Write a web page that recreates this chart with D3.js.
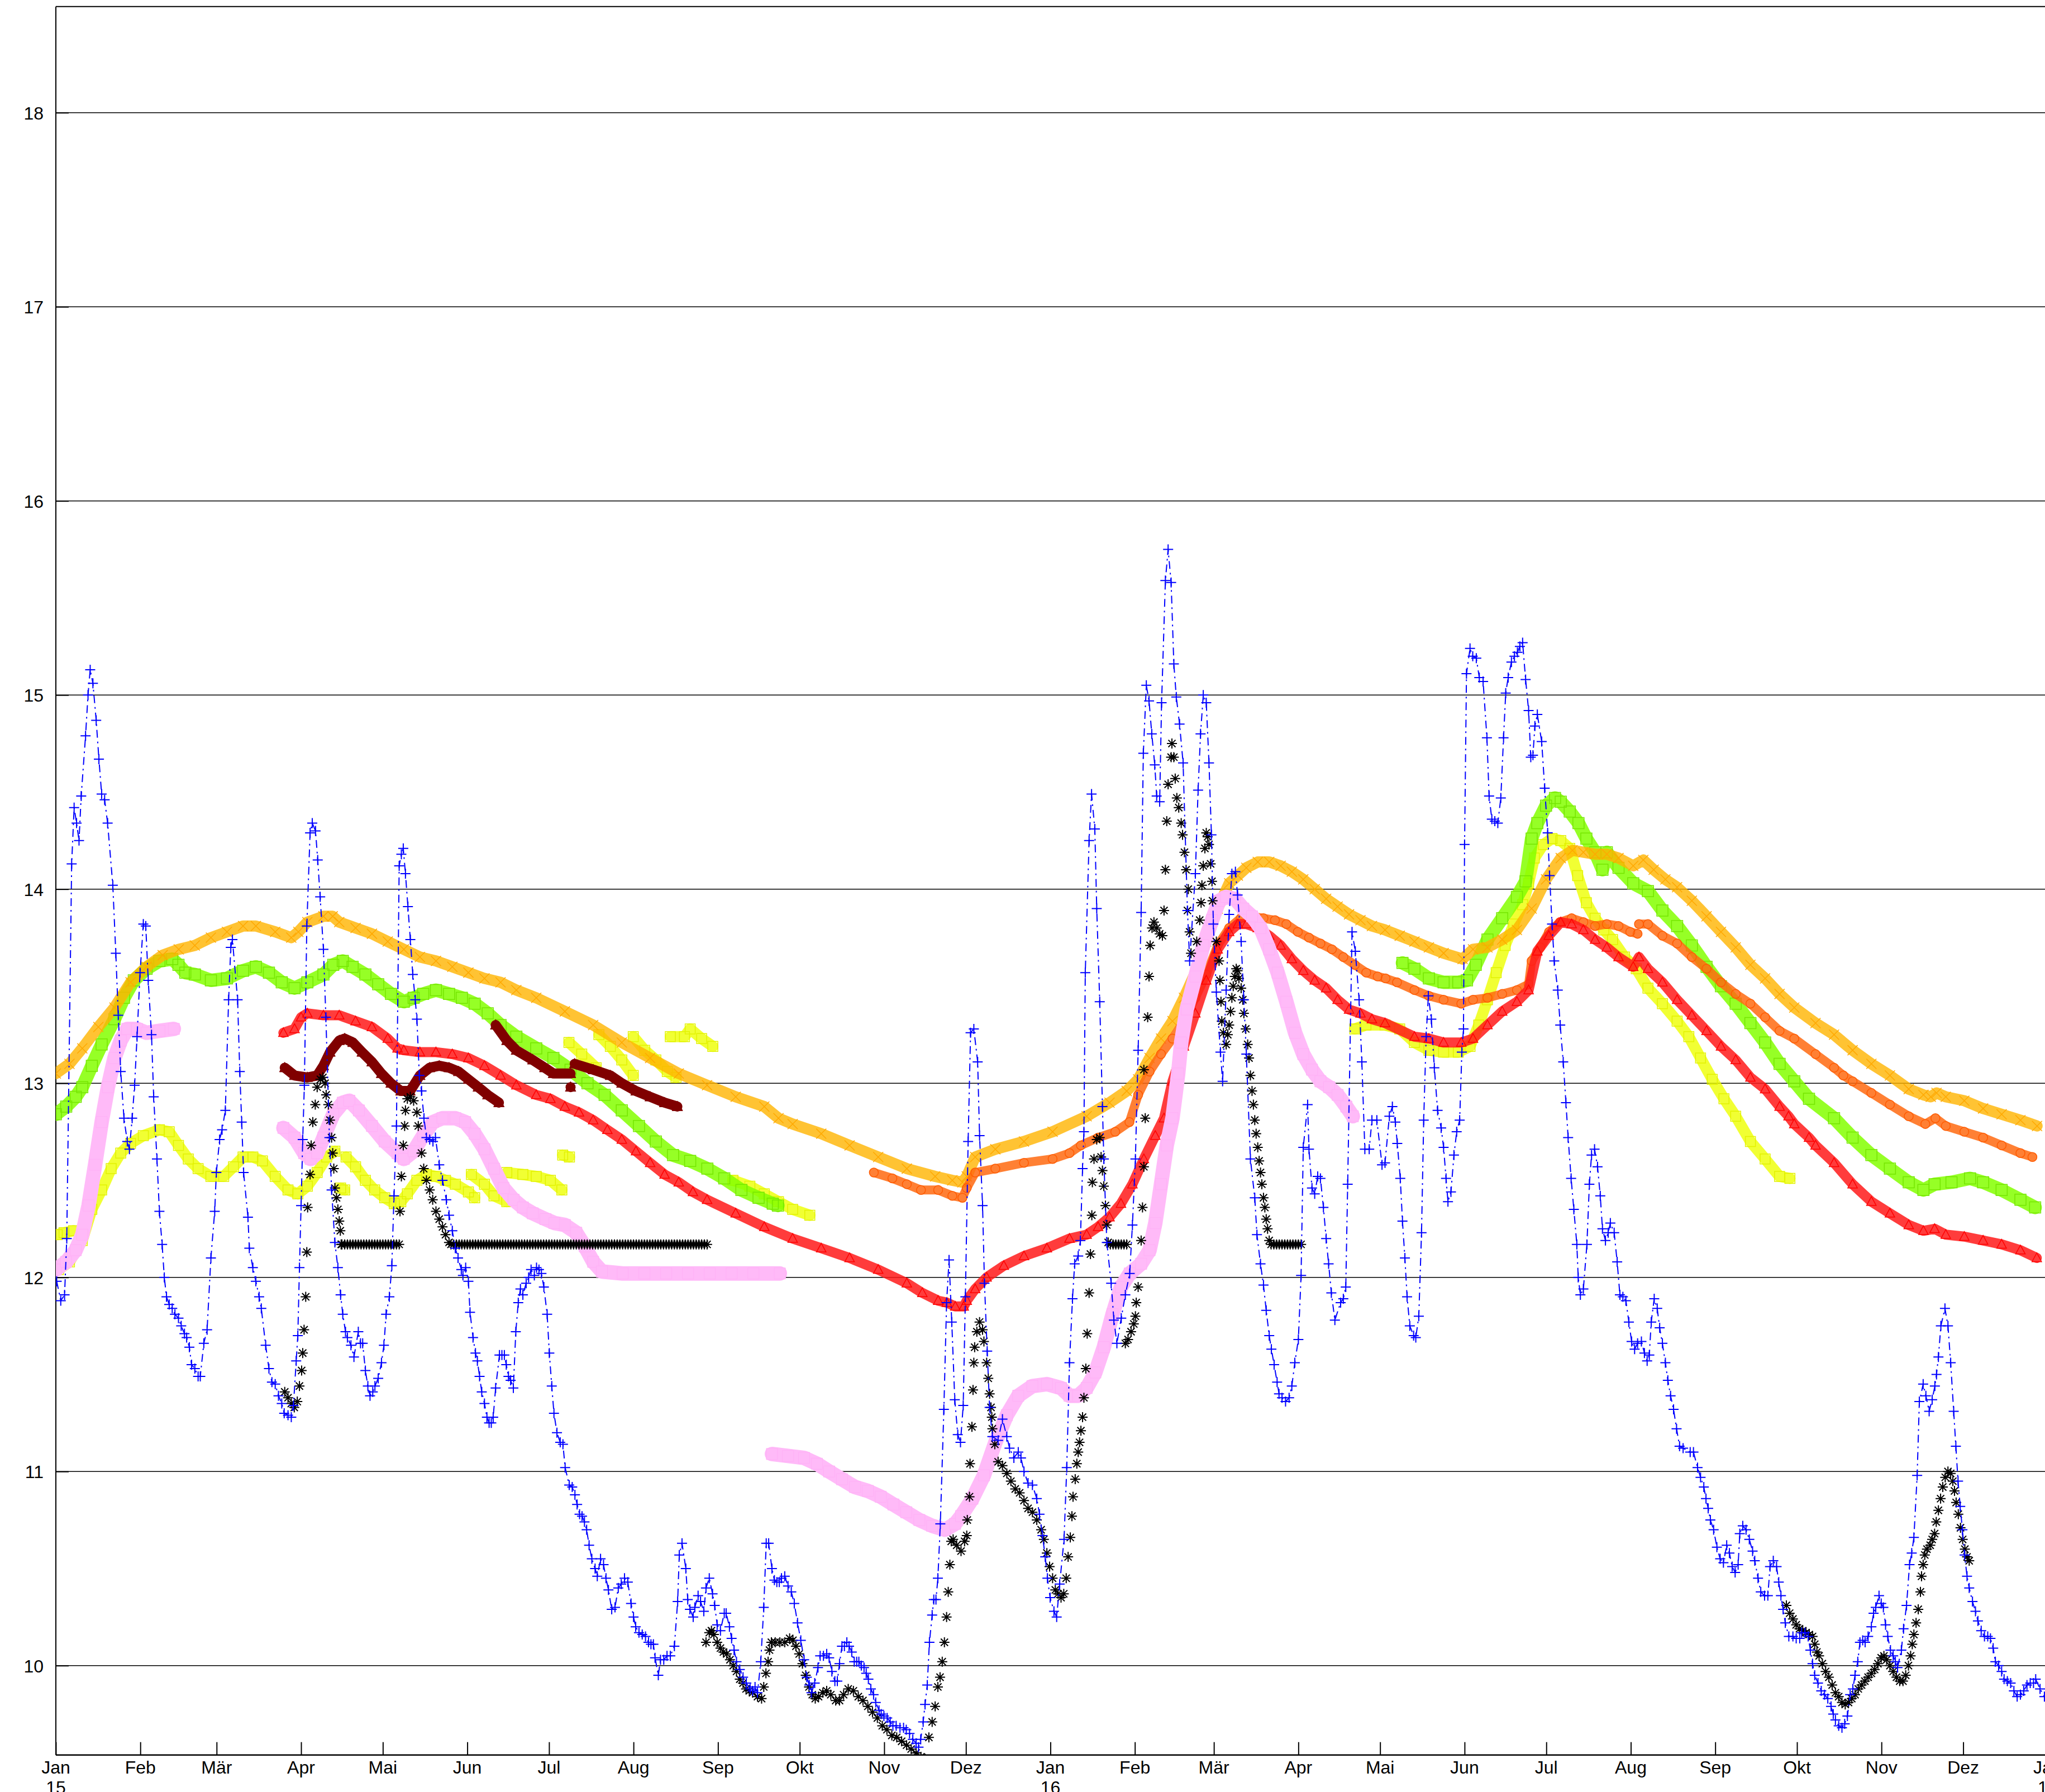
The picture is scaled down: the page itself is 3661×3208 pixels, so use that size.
<!DOCTYPE html>
<html lang="de">
<head>
<meta charset="UTF-8">
<title>Messreihen 2015-2016</title>
<script src="https://d3js.org/d3.v7.min.js"></script>
<style>
  body { margin: 0; background: #fff; }
  text { font-family: "Liberation Sans", Arial, sans-serif; font-size: 32px; fill: #000; }
</style>
</head>
<body>
<svg id="chart" width="3661" height="3208"></svg>
<script>
// x = days since 2015-01-01, y = value
const yTicks = [10, 11, 12, 13, 14, 15, 16, 17, 18];
const monthNames = ["Jan", "Feb", "Mär", "Apr", "Mai", "Jun", "Jul", "Aug", "Sep", "Okt", "Nov", "Dez"];
const yearNames = {2015: "15", 2016: "16", 2017: "17"};

const blue = [
  [0.3,11.98],[1.8,11.88],[3.2,11.91],[4,12.2],[5.8,14.13],[6.7,14.42],[7.6,14.34],[8.5,14.25],[9.3,14.48],[10.9,14.79],[11.8,15.0],[12.6,15.13],[13.6,15.06],[14.8,14.87],[15.8,14.67],[16.8,14.49],[17.9,14.46],[19,14.34],[20.9,14.02],[22,13.67],[22.9,13.35],[23.8,13.06],[25,12.82],[26.2,12.7],[27,12.66],[28,12.82],[28.9,12.99],[29.8,13.24],[30.9,13.57],[32.1,13.82],[33,13.81],[33.9,13.53],[35.1,13.25],[35.9,12.93],[37.1,12.61],[38,12.34],[39,12.17],[39.8,12.0],[40.6,11.9],[41.6,11.86],[42.7,11.84],[43.7,11.81],[45,11.79],[46,11.75],[47.2,11.71],[48,11.69],[49,11.64],[49.8,11.55],[51,11.53],[52.2,11.49],[53,11.49],[54.3,11.66],[55.5,11.73],[56.9,12.1],[58.3,12.34],[58.9,12.54],[60.1,12.71],[61,12.76],[62.2,12.86],[63.4,13.43],[64.2,13.7],[64.8,13.74],[66.7,13.43],[67.5,13.06],[68.2,12.8],[68.9,12.54],[70.5,12.31],[71,12.15],[72.3,12.05],[73.4,11.98],[74.6,11.9],[75.4,11.84],[77,11.65],[78.2,11.53],[79.3,11.46],[80.5,11.45],[81.7,11.39],[82.9,11.35],[83.8,11.3],[85.2,11.29],[86.4,11.28],[87.2,11.34],[88.2,11.57],[88.8,11.7],[89.4,12.05],[90,12.37],[90.6,12.71],[91.2,12.99],[92.1,13.81],[93.3,14.29],[94.1,14.34],[95.3,14.3],[96.1,14.15],[97,13.96],[98.2,13.69],[99.1,13.34],[100.4,12.72],[101.2,12.45],[102.4,12.18],[103.5,12.05],[104.5,11.91],[105.3,11.81],[106.3,11.72],[107,11.69],[108.3,11.65],[109.4,11.59],[111,11.72],[111.8,11.66],[112.6,11.66],[113.6,11.52],[114.5,11.44],[115.3,11.39],[116.3,11.41],[117.1,11.44],[118.3,11.48],[119.5,11.56],[120.4,11.65],[121.2,11.81],[122.4,11.9],[123.3,12.06],[124.1,12.42],[125,12.78],[126,14.12],[126.8,14.18],[127.5,14.21],[128.3,14.08],[129.2,13.91],[130.1,13.74],[131,13.56],[131.9,13.43],[132.5,13.33],[133.4,13.04],[134.2,12.96],[135.1,12.82],[136,12.72],[137.2,12.71],[138.4,12.7],[139.3,12.72],[140.7,12.58],[141.9,12.5],[143.3,12.4],[144.3,12.32],[145.5,12.24],[146.6,12.15],[147.6,12.1],[148.8,12.04],[149.4,12.01],[150.4,12.05],[151.4,11.98],[152,11.82],[153.1,11.69],[154,11.61],[154.7,11.57],[155.5,11.49],[156.3,11.41],[157.3,11.35],[158.2,11.28],[159,11.25],[159.8,11.25],[160.5,11.28],[161.4,11.43],[162.8,11.6],[163.7,11.6],[164.6,11.6],[165.3,11.55],[166.1,11.49],[166.9,11.47],[167.9,11.43],[168.8,11.72],[169.7,11.87],[170.5,11.94],[171.4,11.91],[172.6,11.97],[173.5,12.0],[174.4,12.04],[175.6,12.01],[176.4,12.05],[177.3,12.04],[178.2,12.02],[179.1,11.95],[180.3,11.81],
  [181.1,11.61],[182,11.44],[182.8,11.3],[183.9,11.2],[185.1,11.15],[186.1,11.14],[186.9,11.02],[188.4,10.93],[189.5,10.92],[190.5,10.88],[191.3,10.83],[192.2,10.78],[193.1,10.77],[194,10.74],[194.8,10.7],[195.7,10.62],[196.7,10.55],[197.9,10.5],[198.7,10.46],[199.9,10.55],[201,10.52],[201.9,10.45],[202.8,10.39],[204,10.29],[205.2,10.3],[206.4,10.4],[207.5,10.42],[208.7,10.45],[209.9,10.43],[211.1,10.32],[212,10.25],[212.8,10.2],[214,10.17],[215.2,10.16],[216.4,10.15],[217.5,10.12],[218.4,10.11],[219.3,10.11],[219.9,10.04],[221.1,9.95],[221.9,10.03],[223.1,10.03],[224.3,10.05],[225.5,10.05],[227,10.1],[228.2,10.33],[228.8,10.57],[229.8,10.63],[231.2,10.5],[231.9,10.34],[232.7,10.29],[233.9,10.25],[234.5,10.3],[235.7,10.36],[236.6,10.33],[237.8,10.28],[238.6,10.4],[239.8,10.45],[241,10.37],[241.8,10.31],[242.7,10.21],[243.9,10.18],[245.3,10.27],[246,10.27],[247.2,10.2],[248,10.14],[248.9,10.08],[249.8,10.02],[251,9.98],[252.2,9.94],[253.4,9.91],[254.8,9.88],[255.7,9.87],[256.6,9.89],[257.5,9.86],[258.7,10.02],[259.8,10.3],[260.7,10.63],[261.6,10.63],[262.8,10.5],[263.7,10.44],[264.6,10.43],[265.5,10.43],[266.3,10.45],[267.5,10.46],[268.7,10.41],[269.9,10.38],[271,10.32],[272.2,10.22],[273.4,10.13],[274.6,10.03],[275.6,9.94],[276.5,9.9],[277.3,9.86],[278.5,9.91],[279.7,9.99],[280.5,10.05],[281.7,10.05],[282.9,10.06],[283.8,10.04],[284.8,9.97],[285.9,9.92],[286.8,9.92],[287.6,10.01],[288.5,10.1],[289.4,10.1],[290.3,10.12],[291.1,10.1],[292.1,10.07],[293,10.02],[293.9,10.02],[294.7,10.02],[295.6,10.0],[296.6,9.99],[297.4,9.96],[298.2,9.93],[299.1,9.88],[300.1,9.85],[300.9,9.81],[302.1,9.77],[302.9,9.75],[303.9,9.74],[305.1,9.73],[306.2,9.71],[307.2,9.69],[308.4,9.69],[309.8,9.68],[311.1,9.68],[312.1,9.67],[313.3,9.65],[314.5,9.62],[315.7,9.6],[316.6,9.58],[317.4,9.62],[318.3,9.71],[319,9.8],[319.8,9.9],[320.6,10.12],[321.6,10.26],[322.2,10.34],[323,10.34],[323.7,10.45],
  [324.6,10.73],[325.9,11.32],[326.9,11.87],[327.8,12.09],[328.8,11.77],[329.9,11.37],[331,11.19],[332,11.15],[333,11.34],[333.8,11.9],[334.8,12.7],[335.7,13.26],[336.9,13.28],[338.3,13.11],[339,12.73],[340.1,12.37],[340.8,11.97],[341.8,11.62],[342.7,11.33],[343.7,11.18],[345.8,11.16],[347.4,11.27],[349,11.18],[350,11.12],[351.6,11.07],[353.2,11.1],[354.2,11.07],[355.3,11.0],[356.8,10.94],[358.4,10.93],[360,10.86],[361,10.78],[362.1,10.67],[363.1,10.56],[363.9,10.45],[364.9,10.35],[366.3,10.28],[367.3,10.25],[368.4,10.42],[370,10.65],[371,11.02],[372,11.56],[373.1,11.89],[373.9,12.07],[375.2,12.11],[376,12.19],[376.8,12.56],[377.3,12.75],[377.8,13.57],[379.2,14.25],[380.1,14.49],[381.3,14.31],[382,13.9],[383.1,13.42],[384.1,12.88],[384.6,12.61],[385.7,12.18],[387.3,11.97],[388.3,11.78],[389.4,11.66],[391,11.79],[392.5,11.91],[394.1,12.02],[395.1,12.27],[396.2,12.61],[397.2,13.17],[398.3,13.88],[399.1,14.7],[400.2,15.05],[401.2,14.97],[402.2,14.8],[403.3,14.64],[404,14.48],[405.1,14.45],[405.8,14.96],[407.2,15.59],[408.2,15.75],[409.3,15.58],[410.3,15.16],[411.2,14.99],[412.4,14.85],[413.7,14.65],[415.3,13.89],[416.1,13.63],[418.2,14.08],[419.2,14.51],[420.1,14.8],[421.1,15.0],[422.2,14.96],[423.2,14.65],[424.1,14.28],[424.8,13.82],[425.9,13.47],[427.4,13.16],[428.2,13.01],[429.5,13.48],[430.6,13.87],[431.6,14.08],[432.9,14.09],[433.7,13.97],[435,13.73],[436,13.43],[436.9,13.15],[438.4,12.61],[440,12.41],[440.8,12.22],[442.1,12.07],[443.2,11.96],[444.2,11.83],[445.3,11.7],[446.1,11.63],[447.1,11.55],[448.2,11.46],[448.9,11.4],[450,11.38],[451.3,11.36],[452.6,11.38],[453.6,11.44],[454.7,11.56],[456,11.68],[457,12.01],[457.8,12.67],[459.4,12.89],[459.9,12.66],[461,12.46],[462,12.43],[463.1,12.52],[464.1,12.51],[465.2,12.36],[466.2,12.2],[467.1,12.07],[468.1,11.92],[469.4,11.78],[471.5,11.87],[472.5,11.89],[473.4,11.95],[474.1,12.48],[475.7,13.78],[476.9,13.68],[478.3,13.43],[479.3,13.11],[480.4,12.66],[482,12.66],[483,12.81],[484.8,12.81],[486.7,12.58],
  [487.8,12.59],[489.4,12.83],[490.5,12.88],[491.6,12.8],[492.3,12.69],[493.4,12.51],[494.2,12.29],[495.1,12.1],[495.9,11.9],[496.9,11.75],[498.3,11.7],[499.1,11.69],[500.2,11.8],[501.2,12.23],[502,12.81],[502.9,13.24],[503.7,13.45],[504.8,13.33],[505.9,13.08],[507.1,12.86],[508.4,12.77],[509.3,12.67],[510.2,12.51],[510.9,12.39],[512,12.44],[513.1,12.63],[514.1,12.75],[515.2,12.81],[516,13.16],[516.6,13.28],[517,14.23],[517.7,15.11],[519,15.24],[520,15.2],[521.3,15.19],[522.4,15.09],[523.8,15.07],[525.2,14.78],[526,14.48],[527,14.36],[528.1,14.35],[529.2,14.34],[530.3,14.47],[531.3,14.78],[532.1,15.01],[533,15.09],[534.2,15.17],[535.3,15.2],[536.4,15.22],[537.3,15.25],[538.3,15.27],[539.4,15.08],[540.5,14.92],[541.3,14.68],[542.1,14.69],[542.8,14.84],[543.7,14.9],[545.3,14.76],[546.4,14.52],[547.5,14.29],[548.2,14.07],[549.1,13.82],[549.9,13.63],[551.2,13.48],[552.1,13.3],[553.2,13.11],[554.2,12.9],[555,12.72],[556.1,12.51],[557.1,12.35],[558.2,12.17],[558.7,12.0],[559.5,11.91],[560.6,11.94],[561.9,12.17],[562.8,12.48],[563.6,12.63],[564.7,12.66],[565.8,12.57],[566.8,12.42],[567.6,12.25],[568.7,12.19],[569.7,12.23],[570.5,12.28],[571.9,12.23],[573,12.08],[574,11.91],[575.1,11.9],[576.2,11.88],[577.3,11.77],[578.3,11.67],[579.4,11.63],[580.5,11.66],[581.9,11.67],[583,11.61],[584,11.57],[584.8,11.6],[585.5,11.77],[586.6,11.89],[587.7,11.84],[588.6,11.74],[589.6,11.66],[590.7,11.56],[591.6,11.47],[592.6,11.39],[593.7,11.32],[594.8,11.22],[595.9,11.13],[597.2,11.12],[599.8,11.1],[601,11.1],[602.5,11.02],[603.6,10.97],
  [604.8,10.92],[605.6,10.86],[606.4,10.81],[607.2,10.75],[608.4,10.7],[609.6,10.61],[610.8,10.55],[612,10.53],[613.2,10.62],[614.2,10.58],[615.2,10.51],[616.3,10.48],[617.4,10.52],[618,10.68],[619.1,10.72],[620.3,10.7],[621.5,10.65],[622.7,10.59],[623.5,10.54],[624.7,10.45],[625.7,10.38],[627.1,10.36],[628.3,10.36],[629.1,10.51],[630.3,10.54],[631.5,10.51],[632.3,10.43],[633.1,10.36],[633.9,10.29],[634.7,10.22],[636,10.15],[637.5,10.15],[638.7,10.14],[640,10.14],[640.7,10.17],[641.9,10.17],[643.1,10.15],[643.9,10.08],[644.7,10.01],[645.5,9.95],[646.7,9.91],[647.9,9.87],[649.1,9.85],[650.3,9.83],[651.5,9.79],[652.3,9.75],[653.1,9.72],[654.3,9.69],[655.5,9.68],[656.5,9.7],[657.5,9.74],[658.5,9.85],[659.5,9.88],[660.3,9.95],[661.3,10.02],[662.1,10.12],[663.1,10.13],[664,10.12],[665.1,10.15],[666.3,10.2],[667.1,10.27],[667.9,10.3],[669.1,10.36],[669.9,10.32],[670.7,10.3],[671.5,10.21],[672.3,10.15],[673.3,10.08],[674.3,10.05],[675.1,10.02],[675.9,9.99],[677.3,10.08],[678.1,10.19],[679.2,10.31],[680.3,10.52],[681.1,10.58],[681.9,10.66],[683.1,10.98],[683.9,11.36],[685.3,11.45],[686.3,11.39],[687.5,11.31],[688.6,11.37],[689.6,11.44],[690.2,11.5],[690.9,11.59],[691.8,11.75],[693.3,11.84],[694.4,11.75],[695.4,11.56],[696.5,11.31],[697.3,11.13],[698.1,10.95],[698.9,10.82],[699.7,10.7],[700.5,10.57],[701.4,10.46],[702.2,10.4],[703.4,10.33],[704.5,10.28],[705.4,10.23],[706.6,10.18],[707.8,10.15],[709,10.15],[710,10.14],[711,10.09],[711.8,10.02],[713,10.0],[714.1,9.97],[715,9.93],[716.2,9.92],[717.4,9.91],[718.6,9.87],[719.8,9.84],[721,9.85],[722.2,9.87],[723.4,9.9],[724.6,9.91],[725.8,9.91],[726.6,9.93],[728.2,9.88],[729.8,9.84]
];

const black = [
  [84,11.41],[85.2,11.38],[86.4,11.35],[87.5,11.33],[88.6,11.36],[89.4,11.44],[90.2,11.52],[90.6,11.61],[91.1,11.73],[91.7,11.9],[92.1,12.13],[92.4,12.36],[93.3,12.53],[93.7,12.68],[94.3,12.8],[95.2,12.89],[95.9,12.98],[97.1,13.02],[98,13.03],[98.8,13.0],[99.2,12.94],[100,12.89],[100.6,12.81],[101.2,12.72],[101.6,12.64],[102,12.56],[102.4,12.46],[103,12.41],[103.5,12.35],[104,12.29],[104.4,12.24],[104.7,12.17],
  [105,12.17],[106,12.17],[107,12.17],[108,12.17],[109,12.17],[110,12.17],[111,12.17],[112,12.17],[113,12.17],[114,12.17],[115,12.17],[116,12.17],[117,12.17],[118,12.17],[119,12.17],[120,12.17],[121,12.17],[122,12.17],[123,12.17],[124,12.17],[125,12.17],[126,12.17],
  [126.3,12.34],[126.8,12.52],[127.5,12.68],[128,12.78],[128.3,12.86],[129,12.92],[130.1,12.93],[131.3,12.91],[132.5,12.85],[133,12.78],[134.2,12.64],[135,12.56],[136,12.5],[137.2,12.45],[138.3,12.4],[139.5,12.34],[140.7,12.3],[141.9,12.26],[143,12.22],[144.3,12.18],
  [145,12.17],[146,12.17],[147,12.17],[148,12.17],[149,12.17],[150,12.17],[151,12.17],[152,12.17],[153,12.17],[154,12.17],[155,12.17],[156,12.17],[157,12.17],[158,12.17],[159,12.17],[160,12.17],[161,12.17],[162,12.17],[163,12.17],[164,12.17],[165,12.17],[166,12.17],[167,12.17],[168,12.17],[169,12.17],[170,12.17],[171,12.17],[172,12.17],[173,12.17],[174,12.17],[175,12.17],[176,12.17],[177,12.17],[178,12.17],[179,12.17],[180,12.17],[181,12.17],[182,12.17],[183,12.17],[184,12.17],[185,12.17],[186,12.17],[187,12.17],[188,12.17],[189,12.17],[190,12.17],[191,12.17],[192,12.17],[193,12.17],[194,12.17],[195,12.17],[196,12.17],[197,12.17],[198,12.17],[199,12.17],[200,12.17],[201,12.17],[202,12.17],[203,12.17],[204,12.17],[205,12.17],[206,12.17],[207,12.17],[208,12.17],[209,12.17],[210,12.17],[211,12.17],[212,12.17],[213,12.17],[214,12.17],[215,12.17],[216,12.17],[217,12.17],[218,12.17],[219,12.17],[220,12.17],[221,12.17],[222,12.17],[223,12.17],[224,12.17],[225,12.17],[226,12.17],[227,12.17],[228,12.17],[229,12.17],[230,12.17],[231,12.17],[232,12.17],[233,12.17],[234,12.17],[235,12.17],[236,12.17],[237,12.17],[238,12.17],[239,12.17],
  [238.6,10.12],[239.8,10.17],[240.6,10.18],[241.5,10.16],[242.7,10.12],[243.9,10.09],[245,10.07],[246.2,10.06],[247.4,10.03],[248.6,10.0],[249.8,9.97],[251,9.93],[252.2,9.91],[253.3,9.88],[254.5,9.87],[255.7,9.86],[257.5,9.84],[259,9.83],[259.8,9.89],[260.6,9.96],[261.4,10.02],[261.9,10.08],[262.6,10.12],[264,10.12],[265.7,10.12],[267.5,10.12],[269.3,10.14],[270.5,10.13],[271.6,10.1],[272.8,10.06],[274,10.01],[275.2,9.95],[276.4,9.89],[277.6,9.85],[278.7,9.83],[279.9,9.84],[281.5,9.86],[282.9,9.87],[284.4,9.85],[286.2,9.82],[287.6,9.82],[289.1,9.85],[290.8,9.88],[292.7,9.87],[294.5,9.84],[296.2,9.82],[298,9.79],[299.7,9.76],[301.5,9.73],[303.3,9.69],[305,9.67],[306.8,9.64],[308.6,9.63],[310.4,9.61],[312.2,9.59],[313.9,9.57],[315.7,9.55],[317.5,9.53],[319,9.52],[320.4,9.63],[321.6,9.71],[322.7,9.79],[323.7,9.89],[324.5,9.94],[325.3,10.02],[326.1,10.12],[326.9,10.25],[327.5,10.38],[328.1,10.52],[328.6,10.64],[329.3,10.65],[330.6,10.62],[332.2,10.59],[333.5,10.64],[334.3,10.67],[334.5,10.75],[335.3,10.87],[335.5,11.04],[336.2,11.23],[336.6,11.42],[336.9,11.56],[337.2,11.64],[338,11.72],[339,11.77],[340.1,11.73],[340.6,11.67],[341.6,11.56],[342.2,11.48],[342.7,11.4],[343.2,11.33],[343.5,11.28],[343.7,11.22],[344.6,11.14],[345.8,11.05],[347.4,11.03],[349,10.99],[350.5,10.95],[352.1,10.91],[353.7,10.89],[355.3,10.85],[356.8,10.81],[358.4,10.79],[360,10.75],[361.6,10.7],[362.6,10.65],[363.7,10.58],[364.7,10.51],[365.8,10.45],[366.8,10.39],[367.8,10.37],[368.9,10.35],[369.9,10.37],[370.8,10.45],[371.5,10.56],[372.3,10.66],[372.9,10.77],[373.3,10.87],[374.1,10.96],[374.7,11.04],[375.2,11.1],[375.7,11.15],[376.2,11.21],[376.8,11.28],[377.3,11.38],[378,11.53],[378.5,11.71],[379.2,11.92],[379.7,12.12],[380.2,12.32],[380.4,12.49],[381,12.61],[382,12.71],[383.1,12.72],[383.6,12.62],[384.1,12.55],[384.6,12.47],[385.2,12.37],[385.7,12.27],[386.2,12.18],
  [387,12.17],[388,12.17],[389,12.17],[390,12.17],[391,12.17],[392,12.17],[393,12.17],
  [392.5,11.66],[393.5,11.68],[394.6,11.72],[395.6,11.76],[396.2,11.8],[396.5,11.87],[397.2,11.95],[398.3,12.19],[398.8,12.36],[399.3,12.57],[399.8,12.82],[399.3,13.07],[400.7,13.34],[401.2,13.55],[401.6,13.71],[402.3,13.8],[403,13.83],[404,13.8],[405.1,13.77],[406.1,13.76],[406.7,13.89],[407.2,14.1],[407.7,14.35],[408.2,14.54],[409.3,14.68],[409.6,14.75],[410.3,14.68],[410.8,14.57],[411.4,14.47],[412.1,14.42],[413,14.34],[413.5,14.28],[414.2,14.19],[414.8,14.1],[415.6,14.0],[415.3,13.89],[416.1,13.78],[416.6,13.67],[418.7,13.73],[419.8,13.84],[420.3,13.93],[420.6,14.02],[421.1,14.12],[421.7,14.21],[422.2,14.29],[422.7,14.27],[423.2,14.23],[423.8,14.13],[424.3,14.04],[424.5,13.94],[425.9,13.73],[426.9,13.63],[427.2,13.53],[427.6,13.42],[427.9,13.32],[428.5,13.26],[429.5,13.2],[430.1,13.25],[430.6,13.3],[431.1,13.37],[431.6,13.44],[432.1,13.5],[432.7,13.55],[433.2,13.59],[433.7,13.58],[434.2,13.54],[435,13.49],[435.6,13.43],[436,13.36],[436.7,13.28],[437.4,13.2],[437.9,13.13],[438.4,13.04],[439,12.96],[439.5,12.89],[440,12.81],[440.5,12.74],[441.1,12.67],[441.6,12.6],[442.1,12.54],[442.6,12.48],[443.2,12.41],[443.7,12.36],[444.2,12.3],[444.7,12.25],[445.3,12.19],
  [446,12.17],[447,12.17],[448,12.17],[449,12.17],[450,12.17],[451,12.17],[452,12.17],[453,12.17],[454,12.17],[455,12.17],[456,12.17],[457,12.17],
  [635.1,10.31],[636.3,10.27],[637.5,10.24],[638.7,10.21],[639.9,10.19],[641.1,10.18],[642.3,10.17],[643.5,10.16],[644.7,10.15],[645.5,10.11],[646.3,10.07],[647.1,10.05],[648.3,10.01],[649.5,9.97],[650.7,9.94],[651.9,9.9],[653.1,9.86],[654.3,9.84],[655.5,9.81],[656.7,9.8],[657.9,9.81],[659.1,9.83],[660.3,9.85],[661.5,9.88],[662.7,9.9],[663.9,9.92],[665.1,9.94],[666.3,9.96],[667.5,9.98],[668.7,10.01],[669.9,10.04],[670.9,10.05],[671.9,10.03],[673.1,10.0],[674.3,9.97],[675.5,9.94],[676.7,9.92],[677.9,9.92],[678.9,9.95],[679.9,10.0],[680.7,10.05],[681.3,10.11],[681.9,10.16],[682.7,10.22],[683.5,10.29],[684.3,10.38],[684.7,10.46],[685.3,10.52],[685.9,10.57],[686.7,10.6],[687.9,10.62],[688.6,10.65],[689.5,10.68],[690.1,10.74],[690.9,10.8],[691.7,10.86],[692.5,10.92],[693.4,10.97],[694.4,11.0],[695.4,10.99],[696.2,10.95],[696.8,10.9],[697.4,10.84],[698.2,10.78],[699,10.71],[699.8,10.65],[700.6,10.6],[701.4,10.56],[702.2,10.54]
];

const orange = [
  [0,13.05],[5,13.1],[9.7,13.18],[15.6,13.29],[21.5,13.39],[27.4,13.52],[33.3,13.6],[39.2,13.66],[45.1,13.69],[51,13.71],[56.9,13.75],[62.8,13.78],[68.7,13.81],[73.4,13.81],[80.5,13.78],[86.4,13.75],[89,13.78],[92.3,13.83],[98.2,13.86],[101.6,13.86],[104,13.83],[110,13.8],[116,13.77],[121.8,13.73],[127.7,13.69],[133.6,13.65],[139.5,13.63],[145.5,13.6],[151.4,13.57],[157.3,13.54],[163.2,13.52],[169,13.48],[176.3,13.44],[186.8,13.37],[197.2,13.3],[207.7,13.21],[218.1,13.13],[228.6,13.05],[239,12.99],[249.5,12.93],[260,12.88],[265.2,12.82],[270.4,12.79],[280.9,12.74],[291.3,12.68],[301.8,12.62],[312.3,12.56],[322.7,12.52],[329,12.5],[332.7,12.49],[334.3,12.52],[337.4,12.62],[344.8,12.66],[355.3,12.7],[365.8,12.75],[378.3,12.83],[386.7,12.9],[393,12.96],[397.2,13.02],[401.4,13.13],[405.6,13.23],[409.8,13.32],[414,13.44],[418.2,13.57],[422.2,13.73],[426.4,13.9],[430.6,14.03],[433.8,14.07],[436.9,14.11],[441.1,14.14],[445.3,14.14],[449.5,14.12],[453.6,14.09],[457.8,14.05],[462,14.0],[466.2,13.95],[470.4,13.91],[474.6,13.87],[478.8,13.84],[483,13.81],[487.8,13.79],[493.2,13.76],[498.6,13.73],[503.9,13.7],[509.3,13.67],[516.3,13.64],[520.1,13.69],[525.4,13.7],[530.8,13.74],[536.2,13.79],[541.6,13.9],[546.9,14.05],[552.3,14.16],[556.6,14.2],[560.6,14.19],[564.9,14.18],[569.2,14.18],[573.5,14.16],[578.9,14.12],[582.6,14.15],[586.4,14.1],[590.7,14.05],[595,14.01],[600.4,13.94],[605.8,13.86],[611.1,13.78],[616.5,13.7],[621.9,13.61],[627.3,13.54],[632.6,13.46],[638,13.39],[645.8,13.31],[652.6,13.25],[659.4,13.17],[666.3,13.1],[673.1,13.04],[680,12.97],[685.4,12.94],[688.1,12.93],[690.2,12.95],[693.6,12.93],[700.4,12.91],[707.3,12.87],[714.1,12.84],[721,12.81],[727.1,12.78]
];

const orangeRed1 = [
  [300.2,12.54],[307,12.51],[312.3,12.48],[317.5,12.45],[323.8,12.45],[329,12.42],[332.7,12.41],[334.3,12.46],[337.4,12.54],[344.8,12.56],[355.3,12.59],[365.8,12.61],[372,12.64],[376.2,12.68],[382.5,12.72],[388.8,12.75],[394,12.8],[397.2,12.94],[401.4,13.06],[405.6,13.15],[409.8,13.23],[414,13.32],[418.2,13.44],[422.2,13.56],[426.4,13.71],[430.6,13.8],[434.8,13.85],[439,13.86],[443.2,13.85],[447.4,13.84],[451.6,13.82],[455.8,13.78],[459.9,13.75],[464.1,13.72],[468.3,13.69],[472.5,13.65],[476.7,13.61],[480.9,13.57],[485.1,13.55],[488,13.54],[492.2,13.52],[498.6,13.48],[503.9,13.45],[509.3,13.43],[515.8,13.41],[520.1,13.43],[525.4,13.44],[530.8,13.46],[536.2,13.48],[540.5,13.51],[541.6,13.63],[544.8,13.7],[548,13.78],[552,13.83],[556.3,13.85],[560.6,13.83],[564.9,13.81],[569.2,13.82],[573.5,13.81],[577.8,13.78],[580.5,13.77]
];
const orangeRed2 = [
  [581,13.82],[584.3,13.82],[589.6,13.76],[595,13.72],[600.4,13.65],[605.8,13.59],[611.1,13.52],[616.5,13.46],[621.9,13.41],[627.3,13.34],[632.6,13.27],[638,13.23],[645.8,13.15],[652.6,13.08],[656,13.04],[659.4,13.01],[666.3,12.95],[673.1,12.89],[680,12.83],[686.1,12.79],[689.8,12.82],[693.6,12.78],[700.4,12.75],[707.3,12.72],[714.1,12.68],[721,12.64],[725.4,12.62]
];

const green1 = [
  [0,12.84],[3.8,12.88],[7.3,12.93],[9.7,12.98],[13.2,13.09],[16.8,13.2],[21.5,13.33],[25,13.44],[28.6,13.53],[33.3,13.59],[38,13.63],[42.7,13.64],[45,13.61],[47.5,13.57],[51,13.56],[56.9,13.53],[62.8,13.54],[68.7,13.58],[73.4,13.6],[78.2,13.57],[82.9,13.52],[87.6,13.49],[92.3,13.52],[98.2,13.56],[101.8,13.61],[105.3,13.63],[108.9,13.6],[113.6,13.56],[118.3,13.51],[123,13.46],[127.7,13.42],[131.3,13.44],[134.8,13.46],[139.5,13.48],[144.3,13.46],[149,13.44],[153.7,13.41],[158.5,13.36],[163.2,13.3],[169,13.24],[176.3,13.18],[182.6,13.13],[188.9,13.07],[195.1,13.0],[201.4,12.94],[207.7,12.86],[214,12.78],[220.2,12.7],[226.5,12.63],[232.8,12.6],[239.1,12.56],[245.3,12.51],[251.6,12.45],[257.9,12.41],[263.1,12.38],[265,12.37]
];
const green2 = [
  [494.2,13.62],[498.6,13.59],[503.9,13.54],[509.3,13.52],[514.7,13.52],[517.9,13.53],[521.1,13.61],[525.4,13.74],[530.8,13.85],[536.2,13.96],[539.4,14.04],[541.6,14.26],[543.7,14.34],[546.9,14.43],[550.2,14.47],[552.3,14.45],[555.6,14.4],[558.8,14.34],[561.7,14.26],[564.9,14.19],[567.6,14.1],[569.2,14.19],[573.5,14.11],[578.9,14.03],[584.3,13.99],[589.6,13.89],[595,13.81],[600.4,13.71],[605.8,13.6],[611.1,13.5],[616.5,13.41],[621.9,13.31],[627.3,13.21],[632.6,13.1],[638,13.01],[643.4,12.92],[652.6,12.82],[659.4,12.72],[666.3,12.63],[673.1,12.56],[680,12.49],[685.4,12.45],[689.5,12.48],[695.7,12.49],[702.5,12.51],[707.3,12.49],[714.1,12.45],[721,12.4],[726.4,12.36]
];

const red = [
  [83.5,13.26],[87.6,13.28],[90,13.34],[92.3,13.36],[98.2,13.35],[104,13.35],[110,13.32],[116,13.29],[121.8,13.23],[125.4,13.18],[127.7,13.17],[133.6,13.16],[139.5,13.16],[145.5,13.15],[151.4,13.13],[157.3,13.09],[163.2,13.04],[169,12.99],[176.3,12.94],[181.5,12.92],[186.8,12.88],[192,12.85],[197.2,12.81],[202.4,12.76],[207.7,12.71],[212.9,12.65],[218.1,12.59],[223.4,12.53],[228.6,12.49],[233.8,12.44],[239,12.4],[249.5,12.33],[260,12.26],[270.4,12.2],[280.9,12.15],[291.3,12.1],[301.8,12.04],[312.3,11.97],[318,11.92],[323.8,11.88],[327,11.87],[330.1,11.85],[333.2,11.85],[334.3,11.88],[337.4,11.94],[341.6,12.0],[347.9,12.06],[355.3,12.11],[363.7,12.15],[372,12.2],[378.3,12.22],[382.5,12.26],[386.7,12.31],[390.9,12.38],[395.1,12.48],[399.3,12.61],[403.5,12.73],[406.7,12.82],[409.8,13.01],[414,13.19],[418.2,13.36],[422.2,13.53],[426.4,13.69],[430.6,13.78],[433.8,13.82],[436.9,13.82],[441.1,13.8],[445.3,13.76],[449.5,13.71],[453.6,13.64],[457.8,13.58],[462,13.53],[466.2,13.49],[470.4,13.43],[474.6,13.38],[478.8,13.36],[483,13.33],[487.8,13.31],[498.6,13.24],[503.9,13.23],[509.3,13.21],[515.8,13.21],[520.1,13.23],[525.4,13.3],[530.8,13.37],[536.2,13.42],[540.5,13.48],[543.7,13.68],[547.9,13.76],[552.3,13.83],[556.3,13.82],[560.6,13.79],[564.9,13.74],[569.2,13.7],[573.5,13.65],[578.9,13.6],[581,13.65],[584.3,13.59],[589.6,13.52],[595,13.43],[600.4,13.35],[605.8,13.27],[611.1,13.19],[616.5,13.12],[621.9,13.03],[627.3,12.97],[632.6,12.88],[635.9,12.83],[638,12.79],[643.4,12.72],[645.8,12.68],[652.6,12.59],[659.4,12.48],[666.3,12.39],[673.1,12.33],[680,12.27],[685.4,12.24],[689.5,12.25],[693.6,12.22],[700.4,12.21],[707.3,12.19],[714.1,12.17],[721,12.14],[727,12.1]
];

const darkRed1 = [[84,13.08],[87.6,13.04],[92.3,13.03],[95.9,13.04],[98.2,13.09],[100.6,13.16],[104,13.22],[106,13.23],[109,13.21],[112.4,13.16],[116,13.11],[119.5,13.05],[123,13.0],[126.6,12.96],[130,12.96],[133.6,13.04],[137.2,13.08],[140.7,13.09],[144.3,13.08],[147.8,13.06],[151.4,13.02],[155,12.98],[158.5,12.94],[162.6,12.9]];
const darkRed2 = [[161.4,13.3],[165.5,13.22],[169,13.17],[175,13.12],[179.4,13.08],[182.6,13.05],[188.9,13.05]];
const darkRed3 = [[188.9,12.98]];
const darkRed4 = [[190.4,13.1],[197.2,13.07],[203.5,13.04],[207.7,13.0],[212.9,12.96],[218.1,12.93],[223.4,12.9],[228.1,12.88]];

const pink1 = [[0,12.04],[3.8,12.08],[7.3,12.14],[9.7,12.22],[12,12.37],[14.4,12.58],[16.8,12.8],[19.1,12.98],[21.5,13.13],[23.8,13.22],[26.2,13.28],[29.8,13.28],[33.3,13.26],[38,13.27],[43.3,13.28]];
const pink2 = [[83.5,12.77],[87.6,12.72],[91.1,12.64],[93.5,12.61],[95.9,12.64],[98.2,12.72],[101.8,12.84],[105.3,12.9],[107.7,12.91],[111.2,12.86],[116,12.78],[120.7,12.7],[125.4,12.64],[127.7,12.61],[131.3,12.65],[134.8,12.73],[138.4,12.8],[141.9,12.82],[146.6,12.82],[150.2,12.8],[153.7,12.74],[157.3,12.66],[160.8,12.56],[164.3,12.46],[168,12.4],[171.4,12.36],[175,12.33],[179.7,12.3],[183,12.28],[186.8,12.27],[191,12.23],[194.1,12.16],[197.2,12.08],[200.4,12.03],[208,12.02],[216,12.02],[224,12.02],[232,12.02],[240,12.02],[248,12.02],[256,12.02],[265.7,12.02]];
const pink3 = [[262.8,11.09],[268.7,11.08],[274.6,11.07],[279.3,11.04],[283.8,11.0],[288.5,10.96],[293.3,10.92],[298,10.9],[302.7,10.87],[307.4,10.83],[312.1,10.79],[316.9,10.75],[321.6,10.72],[326.3,10.7],[330,10.73],[332.2,10.77],[336.4,10.86],[340.6,10.98],[344.8,11.15],[349,11.29],[353.2,11.39],[358.4,11.44],[363.7,11.45],[368.9,11.43],[372,11.39],[375.2,11.39],[378.3,11.43],[381.5,11.51],[384.6,11.64],[387.8,11.81],[390.9,11.95],[394.1,12.02],[398.3,12.07],[401.4,12.14],[403.5,12.28],[405.6,12.48],[407.7,12.68],[409.8,12.82],[411.9,13.05],[413,13.21],[415,13.38],[418.2,13.55],[421.1,13.71],[424.3,13.84],[426.9,13.94],[429.5,13.96],[432.7,13.95],[435.8,13.9],[439,13.86],[442.1,13.8],[445.3,13.69],[448.4,13.57],[451.6,13.42],[454.8,13.26],[457.8,13.15],[461,13.07],[464.1,13.01],[467.3,12.98],[470.4,12.94],[473.6,12.88],[476,12.83]];

const yellow1 = [[0.5,12.22],[3,12.23],[6.5,12.24]];
const yellow2 = [[1,12.04],[5,12.08],[9.7,12.19],[13.2,12.35],[16.8,12.45],[20.3,12.56],[23.8,12.64],[27.4,12.69],[32.1,12.73],[38,12.76],[41.6,12.75],[45,12.68],[48.6,12.61],[52.2,12.56],[56.9,12.52],[61.6,12.52],[65.2,12.57],[68.7,12.62],[72.3,12.62],[75.8,12.6],[80.5,12.52],[85.2,12.45],[88.8,12.43],[92.3,12.47],[95.9,12.54],[99.4,12.62],[102.4,12.65]];
const yellow3 = [[104.5,12.46],[106,12.45]];
const yellow4 = [[106.5,12.62],[110,12.57],[113.6,12.5],[117,12.45],[120.7,12.41],[124.2,12.38],[126.6,12.39],[129,12.43],[132.5,12.5],[136,12.53],[139.5,12.52],[143,12.5],[146.6,12.48],[151.4,12.44],[153.7,12.41]];
const yellow5 = [[152.5,12.53],[157.3,12.48],[160.8,12.42],[165.5,12.39]];
const yellow6 = [[165.5,12.54],[171.4,12.53],[176.3,12.52],[181.5,12.5],[185.7,12.45]];
const yellow7 = [[186,12.63],[188.5,12.62]];
const yellow8 = [[188.3,13.21],[193,13.15],[198.3,13.08]];
const yellow9 = [[199.3,13.25],[203.5,13.19],[207.7,13.12],[211.9,13.04]];
const yellow10 = [[211.9,13.24],[216.1,13.17],[220.2,13.12],[224.4,13.06],[227.6,13.03]];
const yellow11 = [[225.5,13.24],[230.7,13.24],[232.8,13.28],[237,13.23],[241.1,13.19]];
const yellow12 = [[248.5,12.5],[254.7,12.47],[260,12.43],[265.2,12.39],[270.4,12.35],[276.7,12.32]];
const yellow13 = [[476.7,13.28],[480.8,13.3],[487.8,13.3],[493.2,13.28],[498.6,13.21],[503.9,13.17],[509.3,13.16],[514.7,13.16],[519,13.19],[522.2,13.3],[525.4,13.43],[528.6,13.57],[531.9,13.71],[535.1,13.82],[538.3,13.92],[540.5,14.03],[542.6,14.16],[545.9,14.23],[549.1,14.26],[552.3,14.25],[555.6,14.21],[558.5,14.07],[561.7,13.93],[564.9,13.85],[568.1,13.79],[571.3,13.74],[575.7,13.65],[580,13.59],[584.3,13.49],[589.6,13.41],[595,13.32],[599.3,13.24],[603.6,13.13],[607.9,13.02],[612.2,12.92],[616.5,12.83],[621.9,12.7],[627.3,12.61],[632.6,12.52],[636.4,12.51]];

// ---------------------------------------------------------------
const svg = d3.select("#chart");
const width = +svg.attr("width"), height = +svg.attr("height");
const plotLeft = 100, plotTop = 11.7, plotBottom = 3141.7;

const t0 = Date.UTC(2015, 0, 1);
const toDate = d => new Date(t0 + d * 864e5);

const x = d3.scaleUtc()
  .domain([new Date(Date.UTC(2015, 0, 1)), new Date(Date.UTC(2017, 0, 1))])
  .range([plotLeft, 3665.8]);
const y = d3.scaleLinear().domain([9.5396, 18.5468]).range([plotBottom, plotTop]);

svg.append("rect").attr("width", width).attr("height", height).attr("fill", "#fff");

svg.append("defs").append("clipPath").attr("id", "plot")
  .append("rect").attr("x", plotLeft).attr("y", plotTop).attr("width", width - plotLeft).attr("height", plotBottom - plotTop);

// grid lines
svg.append("g").selectAll("line").data(yTicks).join("line")
  .attr("x1", plotLeft).attr("x2", width)
  .attr("y1", d => y(d)).attr("y2", d => y(d))
  .attr("stroke", "#000").attr("stroke-width", 1.6);

// y axis with inner ticks
const yAxis = svg.append("g").attr("transform", `translate(${plotLeft},0)`)
  .call(d3.axisLeft(y).tickValues(yTicks).tickSize(-23).tickPadding(22).tickFormat(d3.format("d")));
yAxis.select(".domain").remove();
yAxis.selectAll(".tick line").attr("stroke", "#000").attr("stroke-width", 2);
yAxis.selectAll(".tick text").attr("font-size", 32).attr("font-family", "Liberation Sans, Arial, sans-serif").attr("dy", "0.36em");

// x axis: month ticks pointing inward
const months = d3.utcMonth.range(new Date(Date.UTC(2015, 0, 1)), new Date(Date.UTC(2017, 0, 2)));
const xAxis = svg.append("g").attr("transform", `translate(0,${plotBottom})`)
  .call(d3.axisBottom(x).tickValues(months).tickSize(-23).tickFormat(() => ""));
xAxis.select(".domain").remove();
xAxis.selectAll(".tick line").attr("stroke", "#000").attr("stroke-width", 2);

const labels = svg.append("g").attr("text-anchor", "middle");
labels.selectAll("text.m").data(months).join("text")
  .attr("class", "m")
  .attr("x", d => x(d)).attr("y", 3175)
  .text(d => monthNames[d.getUTCMonth()]);
labels.selectAll("text.yr").data(months.filter(d => d.getUTCMonth() === 0)).join("text")
  .attr("class", "yr")
  .attr("x", d => x(d)).attr("y", 3211)
  .text(d => yearNames[d.getUTCFullYear()]);

// frame
svg.append("line").attr("x1", plotLeft).attr("x2", width).attr("y1", plotTop).attr("y2", plotTop)
  .attr("stroke", "#000").attr("stroke-width", 2);
svg.append("line").attr("x1", plotLeft).attr("x2", plotLeft).attr("y1", plotTop).attr("y2", plotBottom)
  .attr("stroke", "#000").attr("stroke-width", 2);
svg.append("line").attr("x1", plotLeft).attr("x2", width).attr("y1", plotBottom).attr("y2", plotBottom)
  .attr("stroke", "#000").attr("stroke-width", 2.5);

// marker shapes
const marks = {
  plus: h => `M${-h},0H${h}M0,${-h}V${h}`,
  times: h => `M${-h},${-h}L${h},${h}M${-h},${h}L${h},${-h}`,
  star: h => { const k = h * 0.72; return `M${-h},0H${h}M0,${-h}V${h}M${-k},${-k}L${k},${k}M${-k},${k}L${k},${-k}`; },
  square: h => `M${-h},${-h}H${h}V${h}H${-h}Z`,
  triangle: h => `M0,${-h}L${h * 0.95},${h * 0.75}L${-h * 0.95},${h * 0.75}Z`,
  circle: h => `M${h},0A${h},${h} 0 1,1 ${-h},0A${h},${h} 0 1,1 ${h},0Z`
};

const plot = svg.append("g").attr("clip-path", "url(#plot)");
const line = d3.line().x(d => x(toDate(d[0]))).y(d => y(d[1]));

function band(data, color, w, opacity) {
  plot.append("path").datum(data)
    .attr("d", line)
    .attr("fill", "none").attr("stroke", color)
    .attr("stroke-width", w).attr("stroke-opacity", opacity)
    .attr("stroke-linejoin", "round").attr("stroke-linecap", "round");
}

function points(data, shape, h, stroke, fill, sw) {
  plot.append("g").selectAll("path").data(data).join("path")
    .attr("transform", d => `translate(${x(toDate(d[0]))},${y(d[1])})`)
    .attr("d", marks[shape](h))
    .attr("fill", fill).attr("stroke", stroke).attr("stroke-width", sw);
}

const yellowSegs = [yellow1, yellow2, yellow3, yellow4, yellow5, yellow6, yellow7, yellow8, yellow9, yellow10, yellow11, yellow12, yellow13];
yellowSegs.forEach(s => { band(s, "#eeff00", 20, 0.8); points(s, "square", 9, "#e2f200", "none", 1.5); });

[green1, green2].forEach(s => { band(s, "#84ff00", 24, 0.85); points(s, "square", 10, "#74e600", "none", 1.5); });

band(orange, "#ffb400", 20, 0.8);
points(orange, "times", 9, "#ffa800", "none", 1.5);

[orangeRed1, orangeRed2].forEach(s => { band(s, "#ff6a10", 16, 0.85); points(s, "circle", 8, "#ff5a00", "none", 1.5); });

band(red, "#ff1a1a", 18, 0.85);
points(red, "triangle", 9, "#ff0000", "none", 1.5);

[darkRed1, darkRed2, darkRed3, darkRed4].forEach(s => { band(s, "#800000", 18, 1); points(s, "triangle", 10, "#800000", "#800000", 1); });

[pink1, pink2, pink3].forEach(s => { band(s, "#ffbaf8", 26, 1); points(s, "square", 10, "#ffb0f6", "#ffbaf8", 1); });

points(black, "star", 9, "#000", "none", 2);

plot.append("path").datum(blue)
  .attr("d", line)
  .attr("fill", "none").attr("stroke", "#0000ff").attr("stroke-width", 2)
  .attr("stroke-dasharray", "14,7,3,7");
points(blue, "plus", 9, "#0000ff", "none", 2);
</script>
</body>
</html>
